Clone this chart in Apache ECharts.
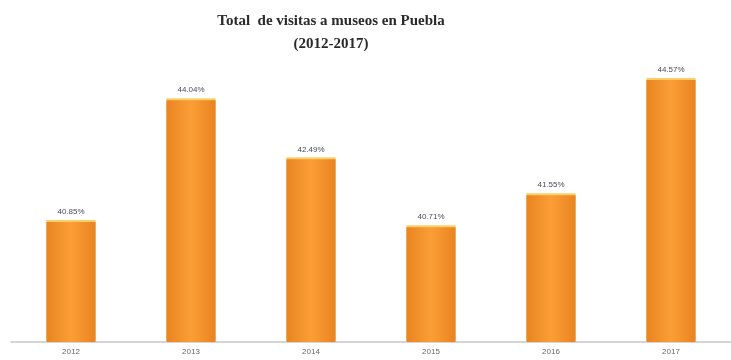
<!DOCTYPE html>
<html>
<head>
<meta charset="utf-8">
<script src="https://cdn.jsdelivr.net/npm/echarts@6/dist/echarts.min.js"></script>
<style>
  html, body { margin: 0; padding: 0; background: #fff; }
  #chart { width: 731px; height: 360px; }
</style>
</head>
<body>
<div id="chart"></div>
<script>
  // datos
  const years = ['2012', '2013', '2014', '2015', '2016', '2017'];
  const visitas = [40.85, 44.04, 42.49, 40.71, 41.55, 44.57];

  let chart = echarts.init(document.getElementById('chart'));
  chart.setOption({
    animation: false,
    title: {
      text: 'Total  de visitas a museos en Puebla\n(2012-2017)',
      left: 326,
      textAlign: 'center',
      top: 5,
      textStyle: {
        fontFamily: 'Liberation Serif',
        fontWeight: 'bold',
        fontSize: 15,
        lineHeight: 23,
        color: '#2a2a2a'
      }
    },
    grid: {
      left: 11,
      right: 0,
      top: 69,
      bottom: 18
    },
    xAxis: {
      type: 'category',
      data: years,
      axisTick: { show: false },
      axisLine: { lineStyle: { color: '#c8c8c8', width: 1.5 } },
      axisLabel: {
        fontSize: 8,
        color: '#666',
        margin: 6,
        fontFamily: 'Liberation Sans'
      }
    },
    yAxis: {
      type: 'value',
      min: 37.7,
      max: 44.86,
      show: false,
      splitLine: { show: false }
    },
    series: [{
      type: 'bar',
      data: visitas,
      barWidth: '41%',
      itemStyle: {
        color: new echarts.graphic.LinearGradient(0, 0, 1, 0, [
          { offset: 0, color: '#e98420' },
          { offset: 0.5, color: '#fb9e36' },
          { offset: 1, color: '#e98420' }
        ]),
        shadowColor: 'rgba(250, 200, 90, 0.9)',
        shadowBlur: 0,
        shadowOffsetY: -2
      },
      label: {
        show: true,
        position: 'top',
        distance: 6,
        fontSize: 8,
        color: '#4a4a5a',
        fontFamily: 'Liberation Sans',
        formatter: function (p) {
          return p.value.toFixed(2) + '%';
        }
      }
    }]
  });
</script>
</body>
</html>
